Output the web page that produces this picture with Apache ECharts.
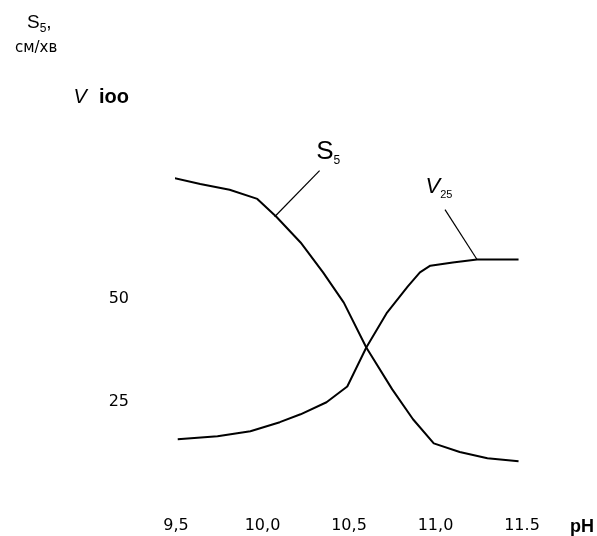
<!DOCTYPE html>
<html>
<head>
<meta charset="utf-8">
<script src="https://cdn.jsdelivr.net/npm/echarts@6/dist/echarts.min.js"></script>
<style>html,body{margin:0;padding:0;background:#fff;}#c{width:597px;height:536px;}</style>
</head>
<body>
<div id="c"></div>
<script>
// pH values and series values
var s5X = [9.48, 9.64, 9.81, 9.97, 10.08, 10.22, 10.35, 10.47, 10.60, 10.75, 10.87, 10.99, 11.14, 11.30, 11.48];
var s5Y = [79.1, 77.6, 76.2, 74.0, 69.7, 63.5, 56.3, 49.0, 38.2, 28.1, 20.9, 15.1, 13.0, 11.5, 10.8];
var v25X = [9.51, 9.74, 9.93, 10.10, 10.22, 10.37, 10.49, 10.60, 10.72, 10.84, 10.91, 10.97, 11.10, 11.24, 11.48];
var v25Y = [16.1, 16.8, 18.0, 20.2, 22.1, 25.0, 28.8, 38.2, 46.6, 52.9, 56.3, 57.9, 58.7, 59.4, 59.4];

// tick labels
var xTicks = [9.5, 10.0, 10.5, 11.0, 11.5];
var xTickText = ['9,5', '10,0', '10,5', '11,0', '11.5'];
var yTicks = [25, 50, 100];
var yTickText = ['25', '50', 'ioo'];

// annotation positions (data coords)
var s5Leader = [[10.07, 69.7], [10.33, 80.8]];
var s5LabelPos = [10.38, 84.9];
var v25Leader = [[11.24, 59.4], [11.055, 71.4]];
var v25LabelPos = [11.02, 76.2];

function zip(a, b) { return a.map(function (v, i) { return [v, b[i]]; }); }

var chart = echarts.init(document.getElementById('c'), null, { renderer: 'canvas' });
var lineStyle = { color: '#000', width: 2 };
var leaderStyle = { color: '#000', width: 1.2, type: 'solid' };

chart.setOption({
  backgroundColor: '#fff',
  animation: false,
  title: [
    { text: '{s|S}{sub|5}{s|,}', left: 22, top: 10,
      textStyle: { fontWeight: 'normal', rich: {
        s: { fontFamily: 'Liberation Sans', fontSize: 19, fontWeight: 'normal', color: '#000', lineHeight: 20, padding: [0, 0, 4, 0] },
        sub: { fontFamily: 'Liberation Sans', fontSize: 12, fontWeight: 'normal', color: '#000', lineHeight: 12, verticalAlign: 'bottom' }
      } } },
    { text: 'см/хв', left: 10, top: 36,
      textStyle: { fontFamily: 'DejaVu Sans', fontSize: 15, fontWeight: 'normal', color: '#000' } }
  ],
  grid: { left: 176, right: 75, top: 91, bottom: 29, containLabel: false },
  xAxis: {
    type: 'value', min: 9.5, max: 11.5, interval: 0.5,
    axisLine: { show: false }, axisTick: { show: false }, splitLine: { show: false },
    axisLabel: {
      margin: 12,
      fontFamily: 'DejaVu Sans', fontSize: 16, color: '#000',
      formatter: function (v) { var i = xTicks.findIndex(function (t) { return Math.abs(t - v) < 1e-6; }); return i >= 0 ? xTickText[i] : ''; }
    },
    name: 'pH', nameLocation: 'end', nameGap: 48,
    nameTextStyle: { fontFamily: 'Liberation Sans', fontSize: 18, fontWeight: 'bold', color: '#000', verticalAlign: 'top', padding: [12, 0, 0, 0] }
  },
  yAxis: {
    type: 'value', min: 0, max: 100, interval: 25,
    axisLine: { show: false }, axisTick: { show: false }, splitLine: { show: false },
    axisLabel: {
      margin: 47,
      fontFamily: 'DejaVu Sans', fontSize: 16, color: '#000',
      formatter: function (v) {
        var i = yTicks.indexOf(v);
        if (i < 0) return '';
        if (v === 100) return '{v|V} {b|' + yTickText[i] + '}';
        return yTickText[i];
      },
      rich: {
        v: { fontFamily: 'Liberation Sans', fontSize: 20, fontStyle: 'italic', color: '#000', padding: [12, 7, 0, 0] },
        b: { fontFamily: 'Liberation Sans', fontSize: 20, fontWeight: 'bold', color: '#000', padding: [12, 0, 0, 0] }
      }
    }
  },
  series: [
    {
      name: 'S5', type: 'line', data: zip(s5X, s5Y), showSymbol: false, symbol: 'none',
      lineStyle: lineStyle, clip: false, smooth: false,
      markLine: { silent: true, symbol: ['none', 'none'], lineStyle: leaderStyle, label: { show: false },
        data: [[{ coord: s5Leader[0] }, { coord: s5Leader[1] }]] },
      markPoint: { silent: true, symbol: 'circle', symbolSize: 0,
        data: [{ coord: s5LabelPos, label: { show: true, position: 'inside', formatter: '{s|S}{sub|5}',
          rich: {
            s: { fontFamily: 'Liberation Sans', fontSize: 26, color: '#000', lineHeight: 26, padding: [0, 0, 4, 0] },
            sub: { fontFamily: 'Liberation Sans', fontSize: 12, color: '#000', lineHeight: 12, verticalAlign: 'bottom' }
          } } }] }
    },
    {
      name: 'V25', type: 'line', data: zip(v25X, v25Y), showSymbol: false, symbol: 'none',
      lineStyle: lineStyle, clip: false, smooth: false,
      markLine: { silent: true, symbol: ['none', 'none'], lineStyle: leaderStyle, label: { show: false },
        data: [[{ coord: v25Leader[0] }, { coord: v25Leader[1] }]] },
      markPoint: { silent: true, symbol: 'circle', symbolSize: 0,
        data: [{ coord: v25LabelPos, label: { show: true, position: 'inside', formatter: '{v|V}{sub|25}',
          rich: {
            v: { fontFamily: 'Liberation Sans', fontSize: 22, fontStyle: 'italic', color: '#000', lineHeight: 22, padding: [0, 0, 6, 0] },
            sub: { fontFamily: 'Liberation Sans', fontSize: 11, color: '#000', lineHeight: 11, verticalAlign: 'bottom' }
          } } }] }
    }
  ]
});
</script>
</body>
</html>
